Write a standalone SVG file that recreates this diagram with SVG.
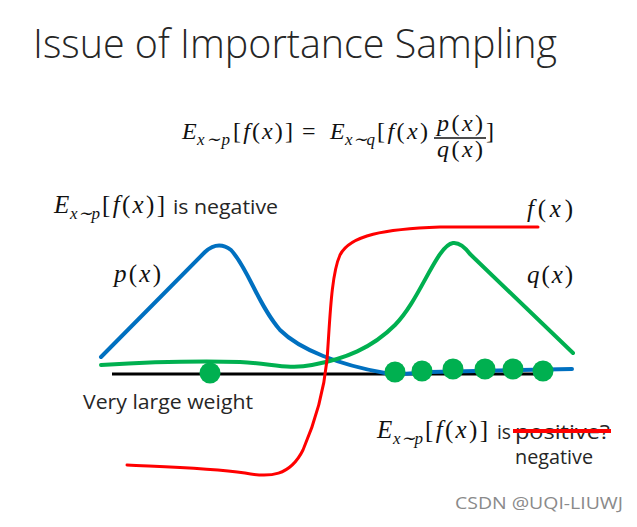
<svg xmlns="http://www.w3.org/2000/svg" width="637" height="527" viewBox="0 0 637 527">
<style>
.m{font-family:"Liberation Serif","Times New Roman",serif;fill:#111}
.i{font-style:italic}
.s{font-family:"Open Sans","Liberation Sans",Arial,sans-serif;fill:#262626}
.c{fill:none;stroke-linecap:round;stroke-linejoin:round}
.dot{fill:#00B050}
</style>
<rect width="637" height="527" fill="#ffffff"/>
<g id="title">
<text class="s" x="33" y="58" font-size="40" font-weight="300" textLength="524" lengthAdjust="spacingAndGlyphs">Issue of Importance Sampling</text>
</g>
<g id="formula">
<text class="m i" x="182" y="139" font-size="24">E</text>
<text class="m i" x="197" y="145" font-size="17" textLength="33" lengthAdjust="spacing">x∼p</text>
<text class="m" x="233" y="139" font-size="24" textLength="60" lengthAdjust="spacing">[<tspan class="i">f</tspan>(<tspan class="i">x</tspan>)]</text>
<text class="m" x="302" y="139" font-size="24">=</text>
<text class="m i" x="330" y="139" font-size="24">E</text>
<text class="m i" x="345" y="145" font-size="17" textLength="30" lengthAdjust="spacing">x∼q</text>
<text class="m" x="377" y="139" font-size="24" textLength="51" lengthAdjust="spacing">[<tspan class="i">f</tspan>(<tspan class="i">x</tspan>)</text>
<text class="m" x="437" y="131" font-size="24" textLength="46" lengthAdjust="spacing"><tspan class="i">p</tspan>(<tspan class="i">x</tspan>)</text>
<line x1="434" y1="138" x2="486" y2="138" stroke="#111" stroke-width="1.3"/>
<text class="m" x="437" y="157" font-size="24" textLength="46" lengthAdjust="spacing"><tspan class="i">q</tspan>(<tspan class="i">x</tspan>)</text>
<text class="m" x="486" y="139" font-size="24">]</text>
</g>
<g id="label-negative">
<text class="m i" x="54" y="213" font-size="25">E</text>
<text class="m i" x="70" y="219" font-size="17" textLength="30" lengthAdjust="spacing">x∼p</text>
<text class="m" x="102" y="213" font-size="25" textLength="63" lengthAdjust="spacing">[<tspan class="i">f</tspan>(<tspan class="i">x</tspan>)]</text>
<text class="s" x="173" y="214" font-size="20" textLength="105" lengthAdjust="spacingAndGlyphs">is negative</text>
</g>
<g id="label-p">
<text class="m" x="114" y="282" font-size="25" textLength="47" lengthAdjust="spacing"><tspan class="i">p</tspan>(<tspan class="i">x</tspan>)</text>
</g>
<g id="label-f">
<text class="m" x="527" y="217" font-size="25" textLength="46" lengthAdjust="spacing"><tspan class="i">f</tspan>(<tspan class="i">x</tspan>)</text>
</g>
<g id="label-q">
<text class="m" x="527" y="283" font-size="25" textLength="46" lengthAdjust="spacing"><tspan class="i">q</tspan>(<tspan class="i">x</tspan>)</text>
</g>
<g id="connectors">
<line x1="112" y1="374" x2="550" y2="374" stroke="#000" stroke-width="3"/>
<path class="c" stroke="#0070C0" stroke-width="4" d="M101,357 L205,252 Q218,240 231,250 C248,268 258,305 280,330 C300,350 340,365 385,373 Q400,375 430,372 L572,369"/>
<path class="c" stroke="#00B050" stroke-width="4" d="M101,365 C150,362 200,361 240,362 C270,363 288,370 312,365 C345,359 372,348 395,325 C420,300 437,245 453,243 Q461,242 470,254 L573,353"/>
<path class="c" stroke="#FF0000" stroke-width="3" d="M127,465 C170,467 210,468 245,473 C270,478 290,476 303,450 C316,420 324,390 327,360 C330,320 331,275 340,255 C350,235 385,229 440,227 L538,227"/>
</g>
<g id="samples">
<circle class="dot" cx="210" cy="373" r="10.5"/>
<circle class="dot" cx="395" cy="372" r="10.5"/>
<circle class="dot" cx="422" cy="371" r="10.5"/>
<circle class="dot" cx="453" cy="369" r="10.5"/>
<circle class="dot" cx="485" cy="369" r="10.5"/>
<circle class="dot" cx="513" cy="369" r="10.5"/>
<circle class="dot" cx="543" cy="371" r="10.5"/>
</g>
<g id="label-weight">
<text class="s" x="83" y="409" font-size="20" textLength="170" lengthAdjust="spacingAndGlyphs">Very large weight</text>
</g>
<g id="label-positive">
<text class="m i" x="377" y="438" font-size="25">E</text>
<text class="m i" x="393" y="444" font-size="17" textLength="30" lengthAdjust="spacing">x∼p</text>
<text class="m" x="425" y="438" font-size="25" textLength="63" lengthAdjust="spacing">[<tspan class="i">f</tspan>(<tspan class="i">x</tspan>)]</text>
<text class="s" x="497" y="439" font-size="20" textLength="14" lengthAdjust="spacingAndGlyphs">is</text>
<text class="s" x="515" y="439" font-size="20" textLength="95" lengthAdjust="spacingAndGlyphs">positive?</text>
<line x1="513" y1="431" x2="611" y2="431" stroke="#FF0000" stroke-width="4"/>
<text class="s" x="515" y="464" font-size="20" textLength="78" lengthAdjust="spacingAndGlyphs">negative</text>
</g>
<g id="watermark">
<text x="455" y="509" font-family="'Open Sans','Liberation Sans',sans-serif" font-size="16" fill="#8a8a8a" textLength="168" lengthAdjust="spacingAndGlyphs">CSDN @UQI-LIUWJ</text>
</g>
</svg>
